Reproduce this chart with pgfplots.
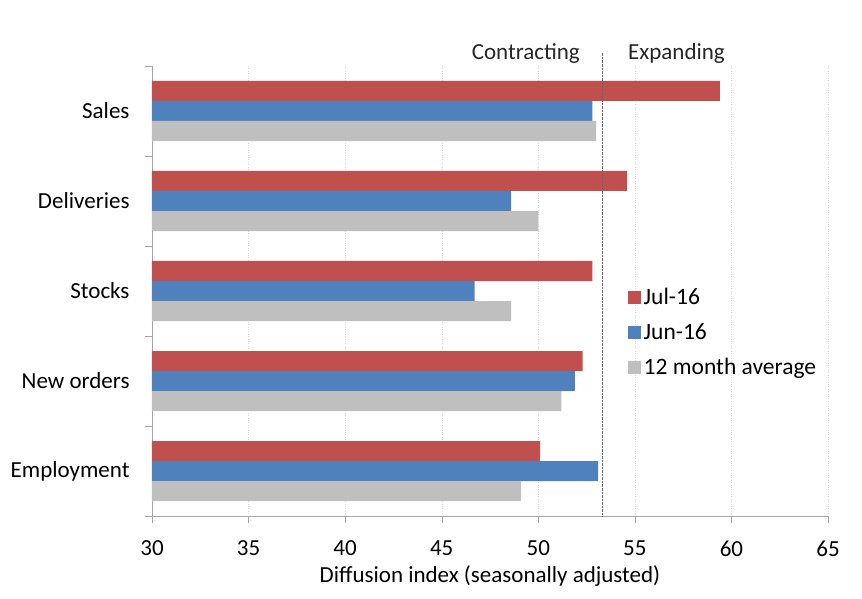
\documentclass[border=0pt]{standalone}
\usepackage{pgfplots}
\pgfplotsset{compat=1.18}
\usepackage{fontspec}
\setmainfont{Carlito}
\definecolor{julred}{HTML}{C0504D}
\definecolor{junblue}{HTML}{4F81BD}
\definecolor{avggray}{HTML}{BFBFBF}
\definecolor{axisgray}{HTML}{A6A6A6}
\begin{document}
\begin{tikzpicture}
\path[use as bounding box] (-152bp,-83bp) rectangle (710bp,516bp);
\begin{axis}[
  scale only axis,
  width=676bp, height=450bp,
  xmin=30, xmax=65, ymin=-0.5, ymax=4.5,
  xtick={30,35,...,65},
  ytick={0,1,2,3,4},
  yticklabels={Employment,New orders,Stocks,Deliveries,Sales},
  minor ytick={-0.5,0.5,...,4.5},
  axis lines*=left,
  axis line style={axisgray},
  tick align=outside,
  major tick length=7bp, minor tick length=7bp,
  major y tick style={draw=none},
  minor y tick style={axisgray},
  major x tick style={axisgray},
  xmajorgrids,
  major x grid style={gray!30, dotted},
  font=\fontsize{23bp}{27bp}\selectfont,
  ticklabel style={font=\fontsize{23bp}{27bp}\selectfont},
  /pgf/number format/assume math mode=true,
  xticklabel style={yshift=-14bp},
  yticklabel style={xshift=-12bp},
  xlabel={Diffusion index (seasonally adjusted)},
  xlabel style={at={(axis description cs:0.5,0)}, anchor=north, inner sep=0, yshift=-49bp},
  clip=false,
  legend style={at={(rel axis cs:0.699,0.515)}, anchor=north west, draw=none, fill=none,
    font=\fontsize{23.5bp}{27bp}\selectfont, row sep=13.5bp,
    nodes={inner xsep=3bp}},
  legend cell align=left,
  legend image code/.code={\fill[#1] (0bp,-6.5bp) rectangle (13bp,6.5bp);},
]
\addplot[xbar, bar width=20bp, bar shift=20bp, fill=julred, draw=none]
  coordinates {(50.1,0) (52.3,1) (52.8,2) (54.6,3) (59.4,4)};
\addlegendentry{Jul-16}
\addplot[xbar, bar width=20bp, bar shift=0bp, fill=junblue, draw=none]
  coordinates {(53.1,0) (51.9,1) (46.7,2) (48.6,3) (52.8,4)};
\addlegendentry{Jun-16}
\addplot[xbar, bar width=20bp, bar shift=-20bp, fill=avggray, draw=none]
  coordinates {(49.1,0) (51.2,1) (48.6,2) (50.0,3) (53.0,4)};
\addlegendentry{12 month average}
\draw[densely dotted, gray!80!black] (axis cs:53.3,-0.5) -- (axis cs:53.3,4.66);
\node[anchor=base east, inner sep=0, xshift=-22bp, yshift=7bp, text=black!85]
  at (axis cs:53.3,4.5) {Contracting};
\node[anchor=base west, inner sep=0, xshift=26bp, yshift=7bp, text=black!85]
  at (axis cs:53.3,4.5) {Expanding};
\end{axis}
\end{tikzpicture}
\end{document}
